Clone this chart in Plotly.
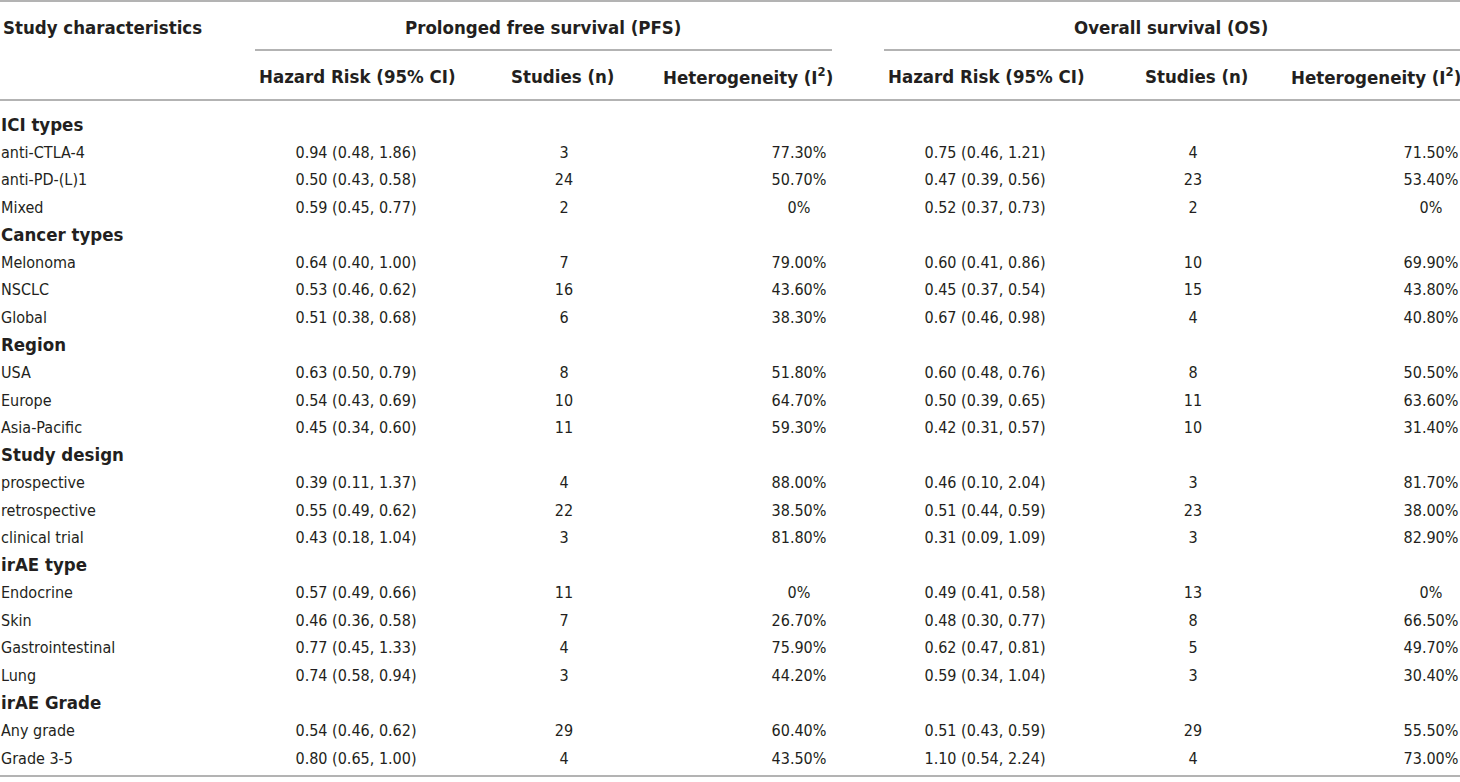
import plotly.graph_objects as go

# table content
characteristics = [
    "ICI types", "anti-CTLA-4", "anti-PD-(L)1", "Mixed",
    "Cancer types", "Melonoma", "NSCLC", "Global",
    "Region", "USA", "Europe", "Asia-Pacific",
    "Study design", "prospective", "retrospective", "clinical trial",
    "irAE type", "Endocrine", "Skin", "Gastrointestinal", "Lung",
    "irAE Grade", "Any grade", "Grade 3-5",
]
group_rows = ["ICI types", "Cancer types", "Region", "Study design", "irAE type", "irAE Grade"]
pfs_hr = [
    "", "0.94 (0.48, 1.86)", "0.50 (0.43, 0.58)", "0.59 (0.45, 0.77)",
    "", "0.64 (0.40, 1.00)", "0.53 (0.46, 0.62)", "0.51 (0.38, 0.68)",
    "", "0.63 (0.50, 0.79)", "0.54 (0.43, 0.69)", "0.45 (0.34, 0.60)",
    "", "0.39 (0.11, 1.37)", "0.55 (0.49, 0.62)", "0.43 (0.18, 1.04)",
    "", "0.57 (0.49, 0.66)", "0.46 (0.36, 0.58)", "0.77 (0.45, 1.33)", "0.74 (0.58, 0.94)",
    "", "0.54 (0.46, 0.62)", "0.80 (0.65, 1.00)",
]
pfs_n = ["", "3", "24", "2", "", "7", "16", "6", "", "8", "10", "11",
         "", "4", "22", "3", "", "11", "7", "4", "3", "", "29", "4"]
pfs_i2 = [
    "", "77.30%", "50.70%", "0%", "", "79.00%", "43.60%", "38.30%",
    "", "51.80%", "64.70%", "59.30%", "", "88.00%", "38.50%", "81.80%",
    "", "0%", "26.70%", "75.90%", "44.20%", "", "60.40%", "43.50%",
]
os_hr = [
    "", "0.75 (0.46, 1.21)", "0.47 (0.39, 0.56)", "0.52 (0.37, 0.73)",
    "", "0.60 (0.41, 0.86)", "0.45 (0.37, 0.54)", "0.67 (0.46, 0.98)",
    "", "0.60 (0.48, 0.76)", "0.50 (0.39, 0.65)", "0.42 (0.31, 0.57)",
    "", "0.46 (0.10, 2.04)", "0.51 (0.44, 0.59)", "0.31 (0.09, 1.09)",
    "", "0.49 (0.41, 0.58)", "0.48 (0.30, 0.77)", "0.62 (0.47, 0.81)", "0.59 (0.34, 1.04)",
    "", "0.51 (0.43, 0.59)", "1.10 (0.54, 2.24)",
]
os_n = ["", "4", "23", "2", "", "10", "15", "4", "", "8", "11", "10",
        "", "3", "23", "3", "", "13", "8", "5", "3", "", "29", "4"]
os_i2 = [
    "", "71.50%", "53.40%", "0%", "", "69.90%", "43.80%", "40.80%",
    "", "50.50%", "63.60%", "31.40%", "", "81.70%", "38.00%", "82.90%",
    "", "0%", "66.50%", "49.70%", "30.40%", "", "55.50%", "73.00%",
]
group_headers = ["Prolonged free survival (PFS)", "Overall survival (OS)"]
sub_headers = ["Hazard Risk (95% CI)", "Studies (n)", "Heterogeneity (I<sup>2</sup>)"]

W, H = 1460, 782
FONT = "DejaVu Sans Condensed, Liberation Sans Narrow, sans-serif"
INK = "#231f20"
RULE = "#9a9a9a"
FS = 16      # body text
HFS = 18.5   # bold headings

row_y0 = 126
row_step = 27.55
rows_y = [row_y0 + i * row_step for i in range(len(characteristics))]

fig = go.Figure()

# first column, left aligned; group rows in bold
labels = ["<b>%s</b>" % c if c in group_rows else c for c in characteristics]
sizes = [HFS if c in group_rows else FS for c in characteristics]
fig.add_trace(go.Scatter(
    x=[1] * len(labels), y=rows_y, mode="text",
    text=labels, textposition="middle right",
    textfont=dict(family=FONT, size=sizes, color=INK), hoverinfo="skip",
))

# value columns, centred (blank cells of group rows skipped)
value_cols = [(356, pfs_hr), (564, pfs_n), (799, pfs_i2),
              (985, os_hr), (1193, os_n), (1431, os_i2)]
for cx, vals in value_cols:
    ys = [y for y, v in zip(rows_y, vals) if v]
    ts = [v for v in vals if v]
    fig.add_trace(go.Scatter(
        x=[cx] * len(ts), y=ys, mode="text",
        text=ts, textposition="middle center",
        textfont=dict(family=FONT, size=FS, color=INK), hoverinfo="skip",
    ))

ann = []
ann.append(dict(x=1, y=27, text="<b>Study characteristics</b>", xanchor="left"))
for cx, t in zip([543, 1171], group_headers):
    ann.append(dict(x=cx, y=27, text="<b>" + t + "</b>", xanchor="center"))
for cx, t in zip([357, 562, 748, 986, 1196, 1376], sub_headers * 2):
    ann.append(dict(x=cx, y=76, text="<b>" + t + "</b>", xanchor="center"))
for a in ann:
    a.update(xref="x", yref="y", showarrow=False, yanchor="middle",
             font=dict(family=FONT, size=HFS, color=INK))

shapes = []
for x0, x1, y in [(0, W, 1), (255, 832, 50), (884, W, 50), (0, W, 100), (0, W, 776)]:
    shapes.append(dict(type="line", xref="x", yref="y", x0=x0, x1=x1, y0=y, y1=y,
                       line=dict(color=RULE, width=1.5)))

fig.update_layout(
    width=W, height=H, margin=dict(l=0, r=0, t=0, b=0),
    paper_bgcolor="white", plot_bgcolor="white", showlegend=False,
    annotations=ann, shapes=shapes,
    xaxis=dict(range=[0, W], visible=False, fixedrange=True),
    yaxis=dict(range=[H, 0], visible=False, fixedrange=True),
)

fig.write_html("out.html", config={"displayModeBar": False},
               post_script="document.body.style.margin='0';document.body.style.overflow='hidden';")
